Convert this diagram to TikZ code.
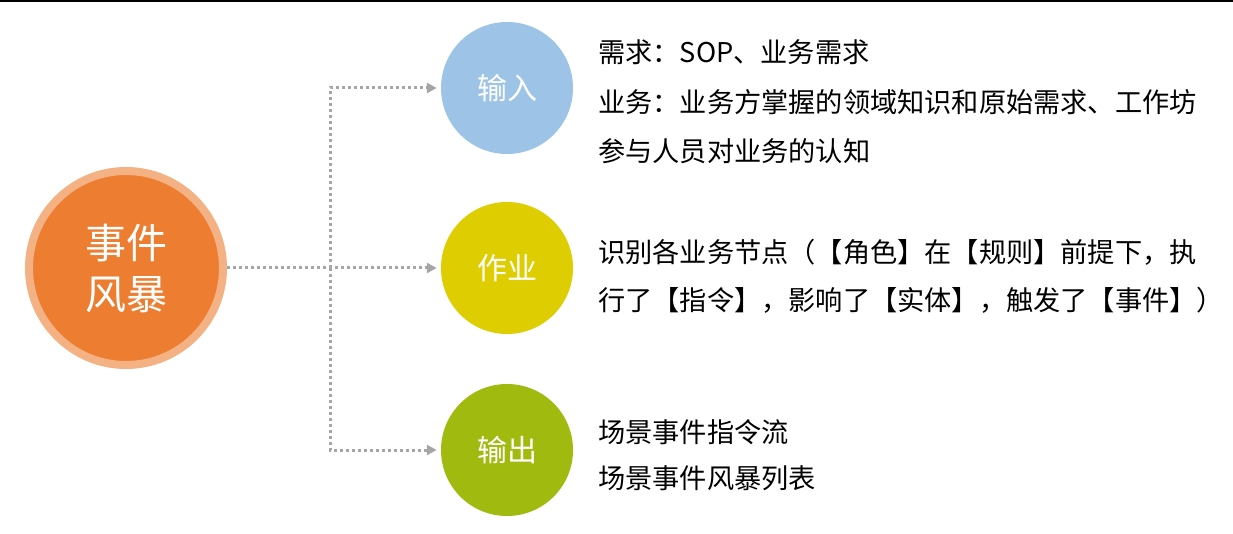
\documentclass[tikz,border=0pt]{standalone}
\usepackage{fontspec}
\setmainfont{Noto Sans CJK SC}
\usetikzlibrary{arrows.meta}
\definecolor{ringc}{HTML}{F4B183}
\definecolor{orangec}{HTML}{ED7D31}
\definecolor{bluec}{HTML}{9DC3E6}
\definecolor{yellowc}{HTML}{DECD00}
\definecolor{greenc}{HTML}{A0BA10}
\definecolor{dotc}{HTML}{A6A6A6}
\tikzset{
  bigcirc/.style={circle, inner sep=0pt, minimum size=194pt, draw=ringc, line width=8pt, fill=orangec,
    text=white, align=center, font=\fontsize{41}{51}\selectfont},
  smallcirc/.style={circle, inner sep=0pt, minimum size=132pt, text=white, font=\fontsize{30}{36}\selectfont},
  conn/.style={draw=dotc, line width=3pt, dash pattern=on 3pt off 3pt,
    -{Triangle[length=10pt,width=10pt,fill=dotc]}, shorten >=4pt},
  txt/.style={anchor=base west, inner sep=0pt, font=\fontsize{27.2}{30}\selectfont, text=black},
}
\begin{document}
\begin{tikzpicture}[x=1pt, y=-1pt]
\useasboundingbox (0,0) rectangle (1233,534);
\fill[white] (0,0) rectangle (1233,534);
\draw[line width=2pt, black] (0,1) -- (1233,1);

\node[bigcirc] (storm) at (126,268) {事件\\风暴};
\node[smallcirc, fill=bluec] (in) at (507,88) {输入};
\node[smallcirc, fill=yellowc] (op) at (507,268) {作业};
\node[smallcirc, fill=greenc] (out) at (507,450) {输出};

\coordinate (j) at (330,268);
\draw[conn] (storm.east) -- (op.west);
\draw[conn] (j) |- (in.west);
\draw[conn] (j) |- (out.west);

\node[txt] (in1) at (598,63) {需求：SOP、业务需求};
\node[txt] (in2) at (598,113) {业务：业务方掌握的领域知识和原始需求、工作坊};
\node[txt] (in3) at (598,162) {参与人员对业务的认知};
\node[txt] (op1) at (598,263) {识别各业务节点（【角色】在【规则】前提下，执};
\node[txt] (op2) at (598,310) {行了【指令】，影响了【实体】，触发了【事件】）};
\node[txt] (out1) at (598,442) {场景事件指令流};
\node[txt] (out2) at (598,488) {场景事件风暴列表};
\end{tikzpicture}
\end{document}
